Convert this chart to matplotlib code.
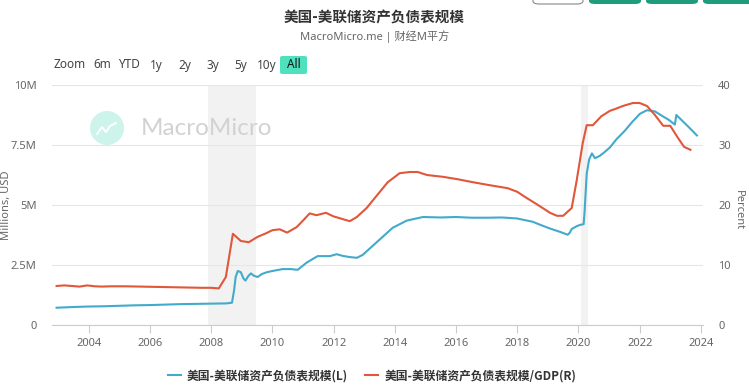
import matplotlib
matplotlib.use("Agg")
import matplotlib.pyplot as plt
from matplotlib.patches import Ellipse, FancyBboxPatch
from matplotlib.lines import Line2D

plt.rcParams['font.family'] = ['Noto Sans', 'Noto Sans CJK SC', 'DejaVu Sans']
CJK = ['Noto Sans CJK SC', 'DejaVu Sans']

# Fed balance sheet, millions USD (left axis)
bs_year = [2002.95, 2003.5, 2004.0, 2004.5, 2005.0, 2005.5, 2006.0, 2006.5, 2007.0, 2007.5,
           2008.0, 2008.5, 2008.68, 2008.75, 2008.8, 2008.87, 2008.97, 2009.05, 2009.12, 2009.22,
           2009.3, 2009.4, 2009.52, 2009.65, 2009.82, 2010.0, 2010.34, 2010.6, 2010.83, 2011.12,
           2011.48, 2011.88, 2012.1, 2012.3, 2012.53, 2012.76, 2012.95, 2013.41, 2013.93, 2014.39,
           2014.92, 2015.5, 2016.0, 2016.5, 2017.0, 2017.5, 2017.99, 2018.51, 2018.74, 2019.07,
           2019.4, 2019.65, 2019.72, 2019.78, 2019.95, 2020.05, 2020.17, 2020.2, 2020.27, 2020.35,
           2020.44, 2020.54, 2020.7, 2020.85, 2021.03, 2021.25, 2021.52, 2021.75, 2022.01, 2022.24,
           2022.5, 2022.75, 2022.95, 2023.15, 2023.2, 2023.4, 2023.6, 2023.87]
bs_value = [0.72, 0.75, 0.77, 0.78, 0.80, 0.82, 0.83, 0.85, 0.87, 0.88,
            0.89, 0.90, 0.93, 1.45, 2.0, 2.25, 2.2, 1.95, 1.85, 2.05,
            2.15, 2.05, 2.0, 2.12, 2.2, 2.25, 2.33, 2.33, 2.3, 2.6,
            2.87, 2.87, 2.95, 2.88, 2.83, 2.8, 2.92, 3.45, 4.05, 4.35,
            4.5, 4.48, 4.5, 4.47, 4.47, 4.48, 4.44, 4.3, 4.18, 4.02,
            3.88, 3.76, 3.85, 4.0, 4.12, 4.17, 4.2, 4.7, 6.3, 6.9,
            7.15, 6.95, 7.05, 7.2, 7.4, 7.75, 8.1, 8.45, 8.8, 8.95,
            8.9, 8.7, 8.55, 8.35, 8.75, 8.5, 8.25, 7.9]

# Fed balance sheet / GDP, percent (right axis)
gdp_year = [2002.95, 2003.2, 2003.45, 2003.7, 2003.95, 2004.2, 2004.45, 2004.7, 2005.2, 2005.7,
            2006.2, 2006.7, 2007.2, 2007.7, 2008.0, 2008.25, 2008.48, 2008.71, 2008.97, 2009.23,
            2009.52, 2009.8, 2010.0, 2010.24, 2010.48, 2010.79, 2011.0, 2011.22, 2011.44, 2011.75,
            2012.0, 2012.2, 2012.53, 2012.76, 2013.08, 2013.4, 2013.77, 2014.16, 2014.49, 2014.75,
            2015.05, 2015.57, 2016.05, 2016.55, 2017.1, 2017.69, 2018.0, 2018.3, 2018.74, 2019.07,
            2019.3, 2019.5, 2019.78, 2019.94, 2020.14, 2020.27, 2020.47, 2020.75, 2021.03, 2021.2,
            2021.45, 2021.78, 2022.0, 2022.24, 2022.5, 2022.77, 2023.0, 2023.25, 2023.45, 2023.66]
gdp_value = [6.5, 6.6, 6.5, 6.4, 6.6, 6.45, 6.4, 6.45, 6.45, 6.4,
             6.35, 6.3, 6.25, 6.2, 6.2, 6.1, 8.0, 15.2, 14.0, 13.8,
             14.7, 15.3, 15.8, 15.95, 15.4, 16.3, 17.4, 18.6, 18.3, 18.7,
             18.1, 17.8, 17.3, 18.0, 19.5, 21.5, 23.8, 25.3, 25.5, 25.5,
             25.0, 24.7, 24.3, 23.8, 23.3, 22.8, 22.2, 21.2, 19.8, 18.7,
             18.2, 18.2, 19.5, 24.0, 30.3, 33.3, 33.3, 34.8, 35.7, 36.0,
             36.5, 37.0, 37.0, 36.5, 35.0, 33.2, 33.2, 31.2, 29.7, 29.2]

recessions = [(2007.9, 2009.46), (2020.1, 2020.3)]
x_ticks = list(range(2004, 2025, 2))
left_ticks = [0, 2.5, 5, 7.5, 10]
left_labels = ['0', '2.5M', '5M', '7.5M', '10M']
right_ticks = [0, 10, 20, 30, 40]

name_bs = '美国-美联储资产负债表规模(L)'
name_gdp = '美国-美联储资产负债表规模/GDP(R)'
c_blue = '#42aacb'
c_red = '#e0573a'
c_text = '#666666'

W, H = 749, 391
fig = plt.figure(figsize=(W / 100, H / 100), dpi=100)

def fx(px):
    return px / W

def fy(py):
    return 1 - py / H

ax = fig.add_axes([fx(52), fy(325), fx(703) - fx(52), fy(85) - fy(325)])
ax2 = ax.twinx()

for a, b in recessions:
    ax.axvspan(a, b, color='#f2f2f2', lw=0, zorder=0)

ax.plot(bs_year, bs_value, color=c_blue, lw=1.5, zorder=3)
ax2.plot(gdp_year, gdp_value, color=c_red, lw=1.5, zorder=3)

ax.set_xlim(2002.8, 2024.07)
ax.set_ylim(0, 10)
ax2.set_ylim(0, 40)
ax.set_xticks(x_ticks)
ax.set_xticklabels([str(t) for t in x_ticks])
ax.set_yticks(left_ticks)
ax.set_yticklabels(left_labels)
ax2.set_yticks(right_ticks)
ax.grid(axis='y', color='#e6e6e6', lw=0.8)
ax.set_axisbelow(True)

for a in (ax, ax2):
    for s in ('top', 'left', 'right'):
        a.spines[s].set_visible(False)
    a.spines['bottom'].set_color('#cccccc')
    a.spines['bottom'].set_linewidth(0.8)
ax2.spines['bottom'].set_visible(False)

ax.tick_params(axis='x', colors='#cccccc', length=6, width=0.8, labelcolor=c_text,
               labelsize=8, pad=3)
ax.tick_params(axis='y', length=0, labelcolor=c_text, labelsize=8, pad=11)
ax2.tick_params(axis='y', length=0, labelcolor=c_text, labelsize=8, pad=11)

fig.text(fx(7), fy(205), 'Millions, USD', rotation=90, ha='center', va='center',
         fontsize=8, color=c_text)
fig.text(fx(738), fy(210), 'Percent', rotation=270, ha='center', va='center',
         fontsize=8, color=c_text)

# title and subtitle
fig.text(0.5, fy(17), '美国-美联储资产负债表规模', ha='center', va='center',
         fontsize=10.5, fontweight='bold', color='#333333', family=CJK)
fig.text(0.5, fy(37), 'MacroMicro.me | 财经M平方', ha='center', va='center',
         fontsize=8, color=c_text)

# range selector
for label, px in [('Zoom', 53), ('6m', 93), ('YTD', 118), ('1y', 150), ('2y', 178),
                  ('3y', 206), ('5y', 234), ('10y', 257)]:
    fig.text(fx(px), fy(65), label, ha='left', va='center', fontsize=8.5, color='#444444')
fig.patches.append(FancyBboxPatch((fx(280), fy(74)), fx(27), fy(56) - fy(74),
                                  boxstyle='round,pad=0,rounding_size=0.004',
                                  transform=fig.transFigure, fc='#4fe0be', ec='none'))
fig.text(fx(293.5), fy(65), 'All', ha='center', va='center', fontsize=8.5,
         fontweight='bold', color='#111111')

# top-right buttons (cut off)
fig.patches.append(FancyBboxPatch((fx(533), fy(4)), fx(50), 0.05,
                                  boxstyle='round,pad=0,rounding_size=0.008',
                                  transform=fig.transFigure, fc='white', ec='#888888', lw=0.8))
for px in (589, 646, 703):
    fig.patches.append(FancyBboxPatch((fx(px), fy(4)), fx(52), 0.05,
                                      boxstyle='round,pad=0,rounding_size=0.008',
                                      transform=fig.transFigure, fc='#1e9c7c', ec='none'))

# watermark
fig.patches.append(Ellipse((fx(107), fy(128)), fx(34), 34 / H, transform=fig.transFigure,
                           fc='#ccf4ea', ec='none', zorder=1))
fig.lines.append(Line2D([fx(97), fx(102), fx(106), fx(110), fx(116)],
                        [fy(134), fy(127), fy(132), fy(126), fy(123)],
                        transform=fig.transFigure, color='white', lw=1.4))
fig.text(fx(141), fy(128), 'MacroMicro', ha='left', va='center', fontsize=17.5,
         color='#d2d2d2', family='Lato')

# legend
handles = [Line2D([], [], color=c_blue, lw=1.5), Line2D([], [], color=c_red, lw=1.5)]
fig.legend(handles, [name_bs, name_gdp], loc='center', bbox_to_anchor=(fx(372), fy(376)),
           ncol=2, frameon=False, handlelength=1.1, handletextpad=0.5, columnspacing=1.5,
           prop={'size': 8.5, 'weight': 'bold', 'family': CJK}, labelcolor='#333333')

fig.savefig('out.png', dpi=100)
